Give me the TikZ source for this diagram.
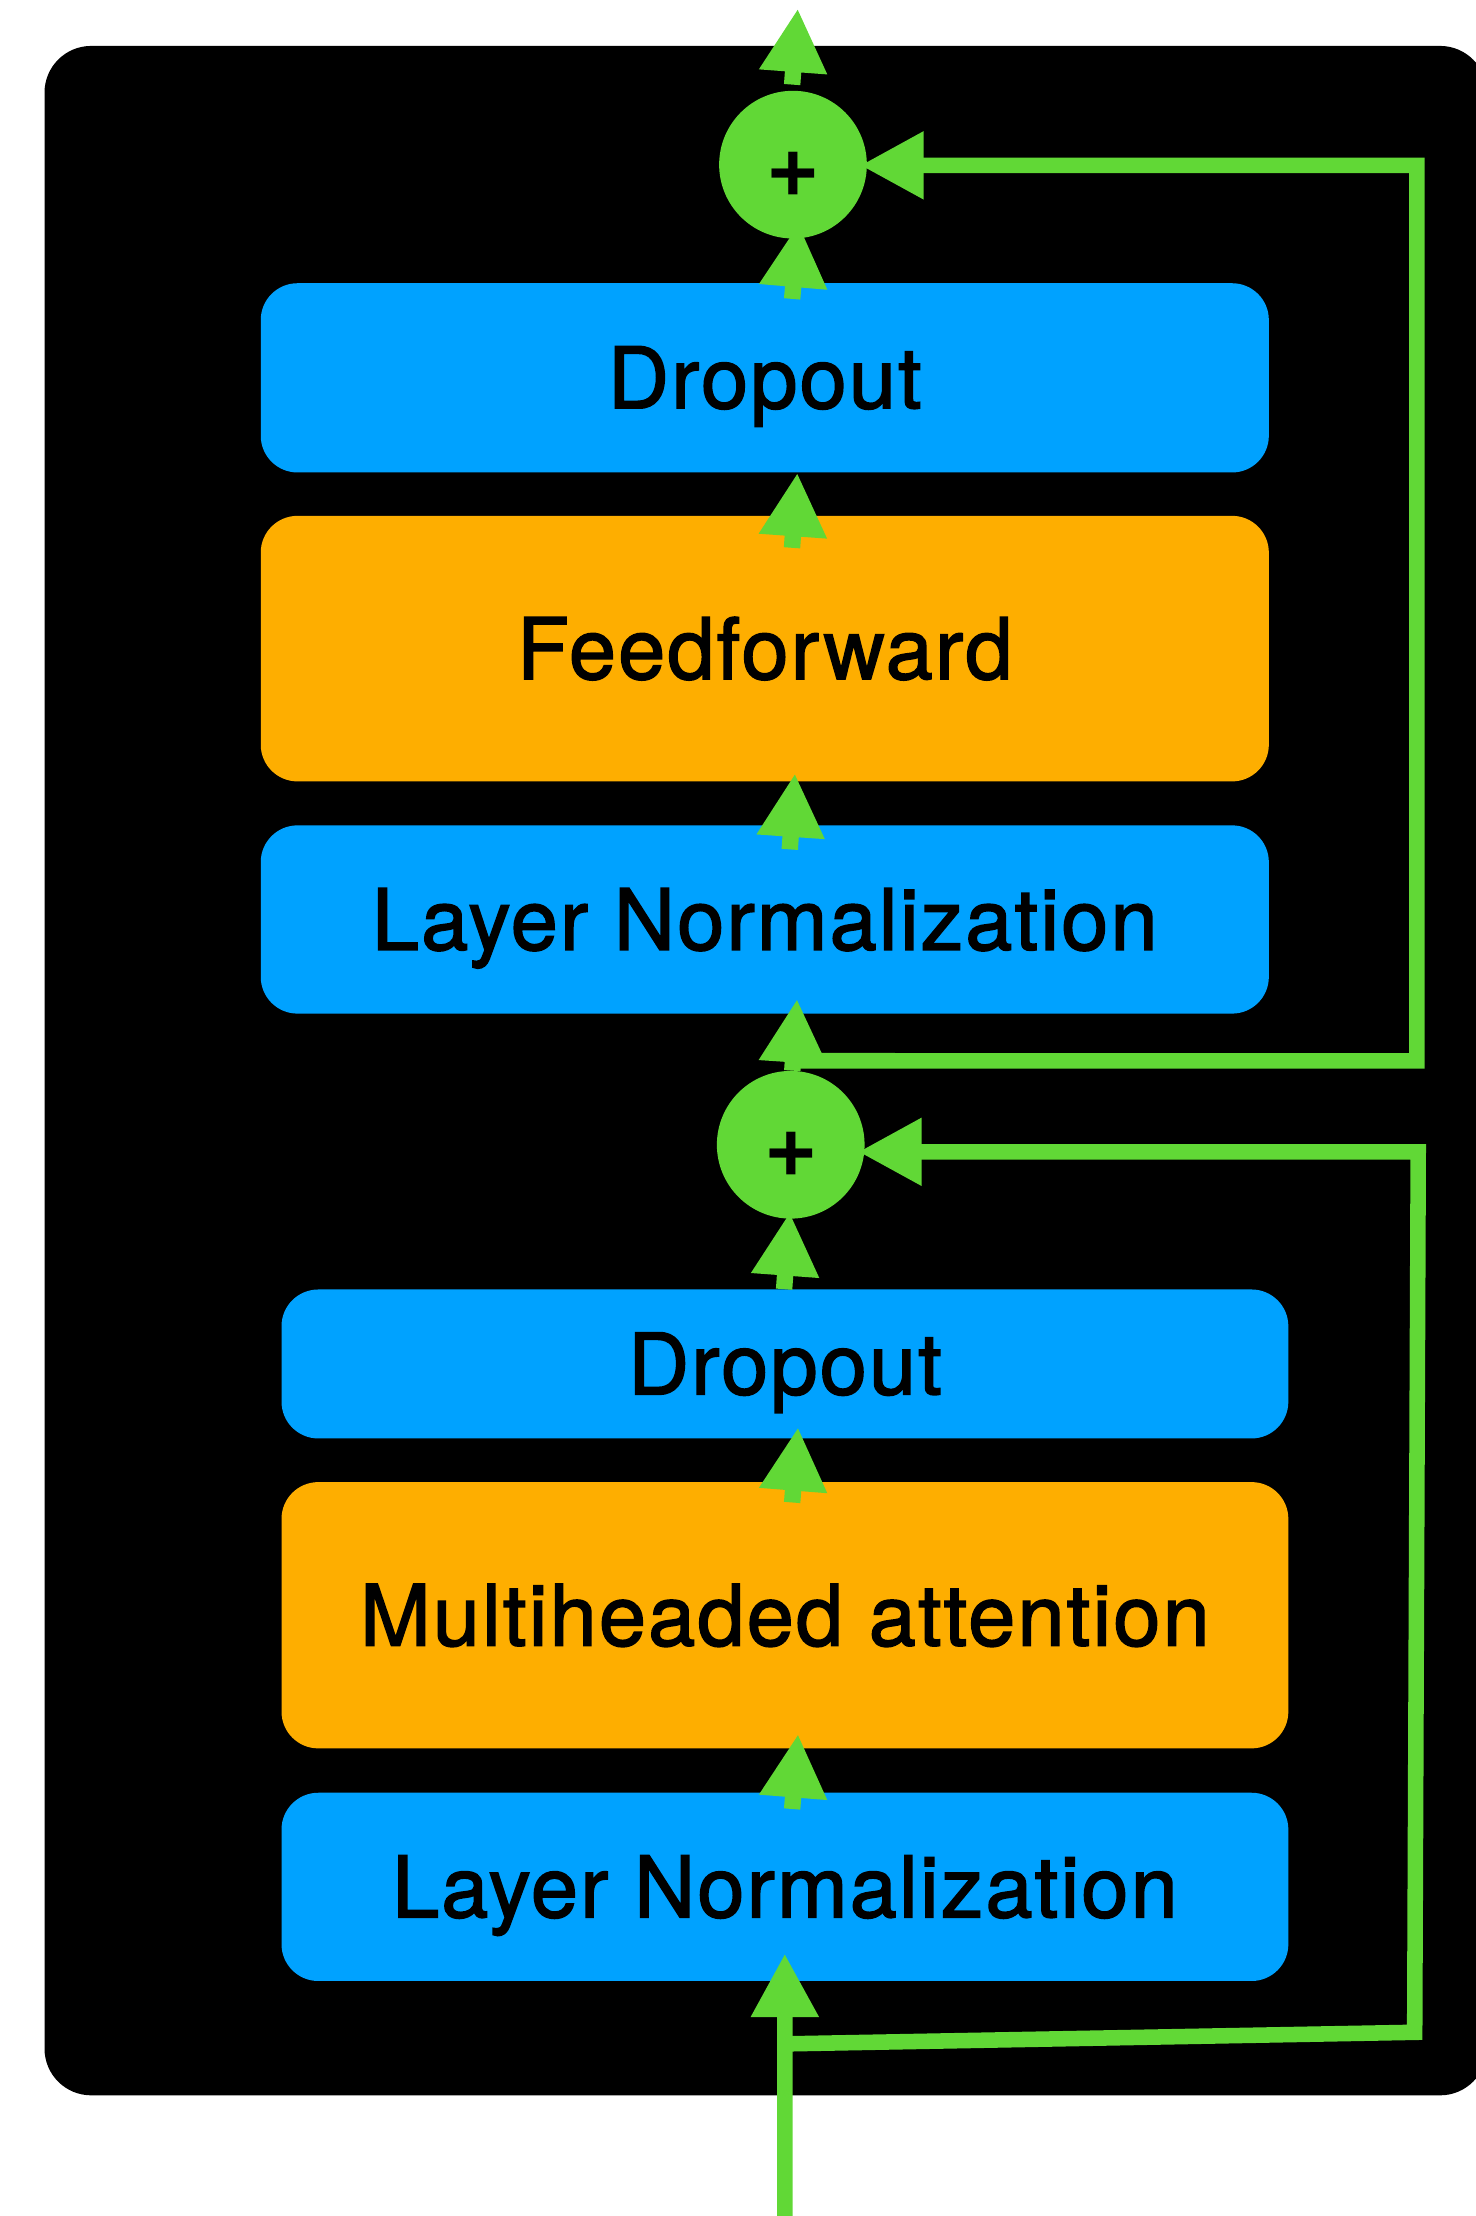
\documentclass[tikz,border=0pt]{standalone}
\usepackage{fontspec}
\setmainfont{TeX Gyre Heros}
\newfontfamily\boxfont[LetterSpace=2.5,FakeBold=1.8]{TeX Gyre Heros}
\usetikzlibrary{arrows.meta,calc}

\definecolor{boxblue}{RGB}{0,162,255}
\definecolor{boxorange}{RGB}{254,174,0}
\definecolor{flowgreen}{RGB}{97,216,54}

\begin{document}
\begin{tikzpicture}[x=1pt,y=-1pt,
  layerbox/.style={rounded corners=26pt, inner sep=0pt, text=black,
    font=\boxfont\fontsize{60pt}{66pt}\selectfont,
    text height=43pt, text depth=0pt},
  bluebox/.style={layerbox, fill=boxblue},
  orangebox/.style={layerbox, fill=boxorange},
  wideA/.style={minimum width=713.3pt},
  wideB/.style={minimum width=712.4pt},
  sumnode/.style={circle, fill=flowgreen, minimum size=104.5pt, inner sep=0pt},
  plusmark/.style={inner sep=0pt, text=black,
    font=\fontsize{65pt}{65pt}\selectfont\bfseries},
  headtip/.style={-{Triangle[length=45pt,width=45pt]}},
  shortflow/.style={draw=flowgreen, line width=11.6pt, headtip},
  longflow/.style={draw=flowgreen, line width=11pt, line join=miter, headtip}
]
\useasboundingbox (0,0) rectangle (1044,1568);

% block background
\fill[black, rounded corners=33pt] (31.5,32.5) rectangle (1052,1482.6);

% lower sub-layer: attention
\node[bluebox, wideB, minimum height=133.2pt] (ln1) at (555.4,1335.1) {Layer Normalization};
\node[orangebox, wideB, minimum height=188.4pt] (mha) at (555.4,1142.9) {Multiheaded attention};
\node[bluebox, wideB, minimum height=105.4pt] (drop1) at (555.4,965.1) {Dropout};
\node[sumnode] (sum1) at (559.5,810) {};
\node[plusmark] (plus1) at (560,817) {+};

% upper sub-layer: feedforward
\node[bluebox, wideA, minimum height=133.2pt] (ln2) at (541.15,650.6) {Layer Normalization};
\node[orangebox, wideA, minimum height=187.9pt] (ff) at (541.15,458.95) {Feedforward};
\node[bluebox, wideA, minimum height=133.9pt] (drop2) at (541.15,267.35) {Dropout};
\node[sumnode] (sum2) at (561.1,116.5) {};
\node[plusmark] (plus2) at (561.5,123.5) {+};

% free ends of the main stream
\coordinate (input) at (555.4,1580);
\coordinate (output) at (564.5,6);

% residual paths
\coordinate (res1b) at (1001,1438);
\coordinate (res1t) at (1003.5,815);
\coordinate (res2b) at (1002.5,750.7);
\coordinate (res2t) at (1002.5,117);

\draw[longflow] ($(ln1.south)+(0,44.3)$) -- (res1b) -- (res1t) -- ($(sum1.east)+(-4.8,5)$);
\draw[longflow] ($(sum1.north)+(1.5,-7)$) -- (res2b) -- (res2t) -- ($(sum2.east)+(-5,0.5)$);

% main stream
\draw[longflow] (input) -- ($(ln1.south)+(-0.1,-19.7)$);
\draw[shortflow] ($(ln1.north)+(5.1,11.7)$) -- ($(mha.south)+(9.3,-10.4)$);
\draw[shortflow] ($(mha.north)+(5.1,14.6)$) -- ($(drop1.south)+(9.3,-8.2)$);
\draw[shortflow] ($(drop1.north)+(-0.6,0)$) -- ($(sum1.south)+(-0.7,-4.8)$);
\draw[shortflow] ($(sum1.north)+(1.1,0)$) -- ($(ln2.south)+(22.85,-10.6)$);
\draw[shortflow] ($(ln2.north)+(17.65,17.2)$) -- ($(ff.south)+(21.35,-5.9)$);
\draw[shortflow] ($(ff.north)+(19.25,22.8)$) -- ($(drop2.south)+(23.05,0)$);
\draw[shortflow] ($(drop2.north)+(19.35,11.3)$) -- ($(sum2.south)+(3.9,-10.8)$);
\draw[shortflow] ($(sum2.north)+(-0.6,-4.2)$) -- (output);
\end{tikzpicture}
\end{document}
